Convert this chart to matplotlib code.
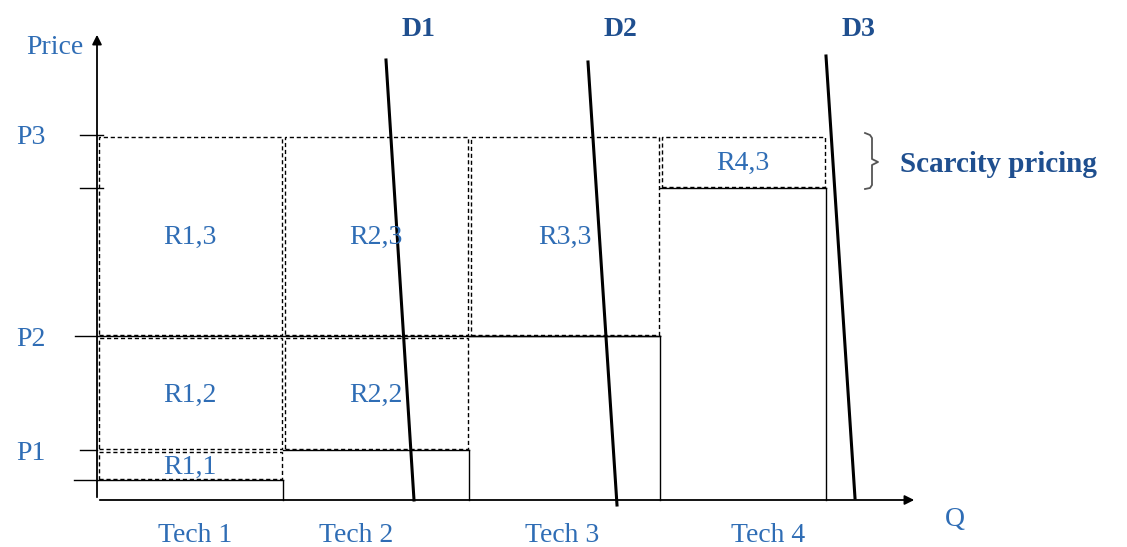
import numpy as np
import matplotlib.pyplot as plt
from matplotlib.patches import Rectangle

# capacities of the four technologies (Q units) and their marginal costs
techs = ['Tech 1', 'Tech 2', 'Tech 3', 'Tech 4']
capacity = [186, 186, 191, 166]
marg_cost = [20, 50, 164, 312]

# price levels
price_labels = ['P1', 'P2', 'P3']
prices = [50, 164, 365]

# demand curves: (q at top, p at top, q at bottom, p at bottom)
demand_names = ['D1', 'D2', 'D3']
demand_top = [(289, 440), (491, 438), (729, 444)]
demand_bot = [(317, 0), (520, -5), (758, 2)]

# rent blocks: (tech index, price index, label)
rents = [(0, 0, 'R1,1'), (0, 1, 'R1,2'), (0, 2, 'R1,3'),
         (1, 1, 'R2,2'), (1, 2, 'R2,3'),
         (2, 2, 'R3,3'),
         (3, 2, 'R4,3')]

blue = '#2F6DB5'
dblue = '#1F4F8F'
plt.rcParams['font.family'] = ['Liberation Serif', 'DejaVu Serif']
fs = 20

fig = plt.figure(figsize=(11.27, 5.47), dpi=100)
ax = fig.add_axes([0, 0, 1, 1])
ax.set_xlim(-97, 1030)
ax.set_ylim(-47, 500)
ax.axis('off')

edges = np.concatenate([[0], np.cumsum(capacity)])

# axes with arrows
ax.annotate('', xy=(0, 468), xytext=(0, 0),
            arrowprops=dict(arrowstyle='-|>', color='black', lw=1.3, mutation_scale=14))
ax.annotate('', xy=(820, 0), xytext=(0, 0),
            arrowprops=dict(arrowstyle='-|>', color='black', lw=1.3, mutation_scale=14))
ax.text(-42, 453, 'Price', color=blue, fontsize=fs, ha='center', va='center')
ax.text(858, -19, 'Q', color=blue, fontsize=fs, ha='center', va='center')

# price ticks and labels
for lab, p in zip(price_labels, prices):
    ax.text(-66, p - 3, lab, color=blue, fontsize=fs, ha='center', va='center')
ax.plot([-17, 6], [prices[2], prices[2]], color='black', lw=1)
ax.plot([-17, 6], [marg_cost[3], marg_cost[3]], color='black', lw=1)
ax.plot([-22, 0], [prices[1], prices[1]], color='black', lw=1)
ax.plot([-17, 0], [prices[0], prices[0]], color='black', lw=1)
ax.plot([-23, 0], [marg_cost[0], marg_cost[0]], color='black', lw=1)

# supply stack (solid)
for i in range(4):
    x0, x1 = edges[i], edges[i + 1]
    ax.plot([x0, x1], [marg_cost[i], marg_cost[i]], color='black', lw=1)
    ax.plot([x1, x1], [0, marg_cost[i]], color='black', lw=1)
ax.plot([0, edges[3]], [prices[1], prices[1]], color='black', lw=1)

# rent blocks (dashed)
for ti, pi, lab in rents:
    x0, x1 = edges[ti], edges[ti + 1]
    lo = marg_cost[ti] if pi == 0 or prices[pi - 1] < marg_cost[ti] else prices[pi - 1]
    hi = prices[pi]
    ax.add_patch(Rectangle((x0 + 1.5, lo + 1.5), x1 - x0 - 3, hi - lo - 3, fill=False,
                           ec='black', lw=1, ls=(0, (3, 2))))
    ax.text((x0 + x1) / 2, (lo + hi) / 2 - 2, lab, color=blue, fontsize=fs,
            ha='center', va='center')

# tech labels (slightly off-centre as in the original drawing)
label_shift = [5, -20, -2, 25]
for i, t in enumerate(techs):
    ax.text((edges[i] + edges[i + 1]) / 2 + label_shift[i], -35, t, color=blue,
            fontsize=fs, ha='center', va='center')

# demand curves
for name, top, bot in zip(demand_names, demand_top, demand_bot):
    ax.plot([top[0], bot[0]], [top[1], bot[1]], color='black', lw=2.2)
    ax.text(top[0] + 32, 471, name, color=dblue, fontsize=fs, fontweight='bold',
            ha='center', va='center')

# scarcity pricing brace
bx = 775
ax.plot([bx - 7, bx - 2, bx, bx, bx + 6, bx, bx, bx - 2, bx - 7],
        [prices[2] + 2, prices[2], prices[2] - 3, 341, 338, 335, marg_cost[3] + 3,
         marg_cost[3], marg_cost[3] - 1], color='#555555', lw=1.3)
ax.text(803, 336, 'Scarcity pricing', color=dblue, fontsize=fs + 1, fontweight='bold',
        ha='left', va='center')

fig.savefig('out.png', dpi=100)
